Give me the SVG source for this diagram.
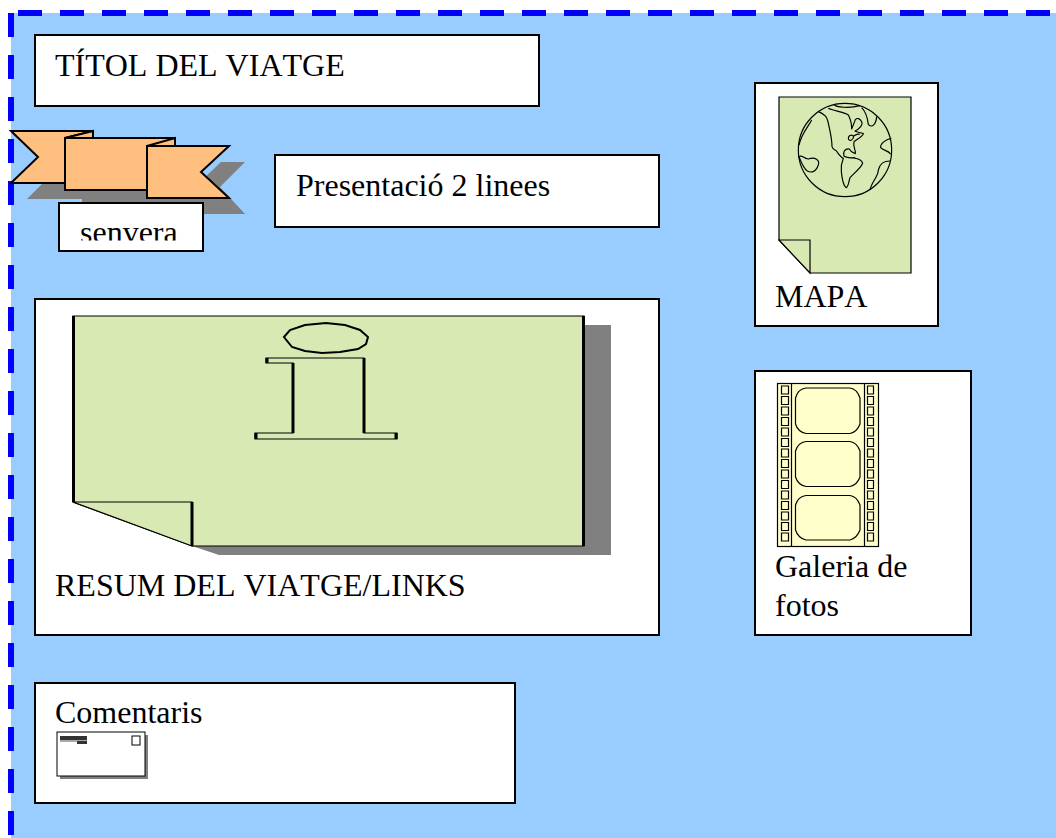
<svg xmlns="http://www.w3.org/2000/svg" width="1056" height="838" viewBox="0 0 1056 838">
<defs>
<style>
.box{fill:#fff;stroke:#000;stroke-width:2}
.t{font-family:"Liberation Serif","Times New Roman",serif;font-size:32px;fill:#000;font-kerning:none}
.dash{fill:none;stroke:#00f;stroke-width:6;stroke-dasharray:24px 18px}
.doc{fill:#d9e9b3;stroke:#000;stroke-width:1.200}
.rib{fill:#ffbf7f;stroke:#000;stroke-width:2;stroke-linejoin:miter}
.gr{fill:#808080}
.hv{stroke:#000;stroke-width:3;fill:none}
.globe{fill:none;stroke:#000;stroke-width:3.500;stroke-linejoin:round}
.film{fill:#ffc;stroke:#000;stroke-width:1.200}
</style>
<clipPath id="senclip"><rect x="60" y="204" width="142" height="36.500"/></clipPath>
</defs>
<rect width="1056" height="838" fill="#fff"/>
<rect id="background" x="11" y="13" width="1045" height="825" fill="#9cf"/>
<g id="border">
<path class="dash" d="M18 13H1056"/>
<path class="dash" d="M11 13V838"/>
</g>
<g id="title"><rect class="box" x="35" y="35" width="504" height="71"/><text class="t" x="55" y="76">TÍTOL DEL VIATGE</text></g>
<g id="banner">
<path class="gr" d="M27 199L44 182H200L221 162H245L220 187L245 214H82V199Z"/>
<path class="rib" d="M65 138L93 131V183H11L38 157L11 131H93"/>
<path class="rib" d="M65 138H175V190H65Z"/>
<path class="rib" d="M65 138L93 131V138Z"/>
<path class="rib" d="M147 146L175 138V146Z"/>
<path class="rib" d="M147 146H229L201 172L229 198H147Z"/>
</g>
<g id="senvera"><rect class="box" x="59" y="203" width="144" height="48"/><text class="t" x="80" y="242.500" clip-path="url(#senclip)">senvera</text></g>
<g id="presentacio"><rect class="box" x="275" y="155" width="384" height="72"/><text class="t" x="296" y="196">Presentació 2 linees</text></g>
<g id="mapa">
<rect class="box" x="755" y="83" width="183" height="243"/>
<path class="doc" d="M779 97H911V273H810L779 240Z"/>
<path class="doc" d="M779 240H810V273Z"/>
<g transform="translate(750 75) scale(.33333)">
<circle class="globe" cx="285" cy="225" r="140"/>
<path class="globe" d="M205 110C225 118 232 125 236 150C242 175 246 195 246 215C250 228 258 222 262 232C268 240 274 248 280 250C275 262 272 270 274 290C276 310 278 330 288 338C296 336 296 318 300 308C312 295 332 280 338 265C335 250 320 252 310 248C296 250 290 248 282 244C278 230 285 220 298 222C305 235 312 232 316 236C318 225 308 215 312 200C325 190 340 182 340 176C328 172 320 172 315 168C325 165 340 150 335 140C330 130 322 128 316 134C312 145 308 155 305 162C305 150 303 135 295 120C280 110 250 108 235 100"/>
<path class="globe" d="M252 88C258 98 300 100 330 92"/>
<path class="globe" d="M335 98C345 108 352 125 355 148C365 160 378 150 380 125"/>
<path class="globe" d="M185 135C175 155 155 175 147 210"/>
<path class="globe" d="M424 190C410 192 390 205 392 218C400 228 415 225 422 238"/>
<path class="globe" d="M420 258C400 258 390 265 385 285C385 305 365 320 360 345"/>
<path class="globe" d="M147 245C155 238 160 250 175 252C195 245 210 255 205 270C198 290 185 295 172 288C160 280 155 265 147 245Z"/>
<path class="globe" d="M295 185C305 176 315 182 308 192C300 202 290 192 298 184M310 184C318 178 325 176 330 178"/>
</g>
<text class="t" x="775" y="307">MAPA</text>
</g>
<g id="galeria">
<rect class="box" x="755" y="371" width="216" height="264"/>
<rect class="film" x="777.500" y="383.500" width="101" height="163"/>
<path class="film" d="M791.500 384V546M864.500 384V546"/>
<g id="sprockets" fill="none" stroke="#000" stroke-width="1.200">
<path d="M781.500 386h7v8h-7zM781.500 396.500h7v8h-7zM781.500 407h7v8h-7zM781.500 417.500h7v8h-7zM781.500 428h7v8h-7zM781.500 438.500h7v8h-7zM781.500 449h7v8h-7zM781.500 459.500h7v8h-7zM781.500 470h7v8h-7zM781.500 480.500h7v8h-7zM781.500 491h7v8h-7zM781.500 501.500h7v8h-7zM781.500 512h7v8h-7zM781.500 522.500h7v8h-7zM781.500 533h7v8h-7z"/>
<path d="M867.500 386h6v8h-6zM867.500 396.500h6v8h-6zM867.500 407h6v8h-6zM867.500 417.500h6v8h-6zM867.500 428h6v8h-6zM867.500 438.500h6v8h-6zM867.500 449h6v8h-6zM867.500 459.500h6v8h-6zM867.500 470h6v8h-6zM867.500 480.500h6v8h-6zM867.500 491h6v8h-6zM867.500 501.500h6v8h-6zM867.500 512h6v8h-6zM867.500 522.500h6v8h-6zM867.500 533h6v8h-6z"/>
</g>
<path class="film" d="M806 388H850Q857 389 860 398V424Q857 432 850 433.500H806Q798 432 795.500 424V398Q798 389 806 388Z"/>
<path class="film" d="M806 441.500H850Q857 442.500 860 451V477Q857 485 850 486.500H806Q798 485 795.500 477V451Q798 442.500 806 441.500Z"/>
<path class="film" d="M806 495.500H850Q857 496.500 860 505V530Q857 538 850 540H806Q798 538 795.500 530V505Q798 496.500 806 495.500Z"/>
<text class="t" x="775" y="577">Galeria de</text>
<text class="t" x="775" y="616">fotos</text>
</g>
<g id="resum">
<rect class="box" x="35" y="299" width="624" height="336"/>
<path class="gr" d="M584 325H611V555H219L192 546H584Z"/>
<path class="doc" d="M73 316H584V546H192L73 502Z"/>
<path class="doc" d="M73 502H192V546Z"/>
<path class="hv" d="M73.500 316V502M192 502V546M583.500 316V546"/>
<path class="doc" style="stroke-width:2" d="M284 337L290 330L305 325L326 323L345 325L360 330L368 337L366 344L358 349L340 352L322 353L305 351L292 347Z"/>
<path class="doc" d="M266 358H364V433H397V439H255V433H293V363H266Z"/>
<path class="hv" d="M293 363V433M364 358V433M256 433V439M396 433V439M267 358V363"/>
<text class="t" x="55" y="596">RESUM DEL VIATGE/LINKS</text>
</g>
<g id="comentaris">
<rect class="box" x="35" y="683" width="480" height="120"/>
<text class="t" x="55" y="723">Comentaris</text>
<rect class="gr" x="60" y="735" width="88" height="44"/>
<rect x="57" y="732" width="88" height="44" fill="#fff" stroke="#000" stroke-width="1"/>
<rect x="60" y="736" width="27" height="4" fill="#333"/>
<rect x="60" y="740.500" width="27" height="1" fill="#555"/>
<rect x="77" y="741" width="10" height="3" fill="#333"/>
<rect x="132" y="736" width="8" height="9" fill="#fff" stroke="#000" stroke-width="1"/>
</g>
</svg>
